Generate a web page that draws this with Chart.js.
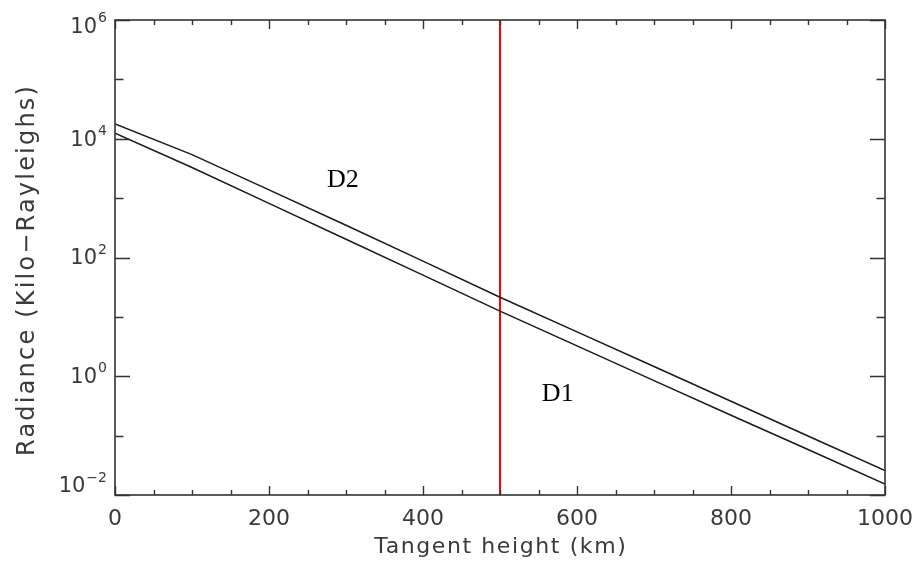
<!DOCTYPE html>
<html>
<head>
<meta charset="utf-8">
<script src="https://cdn.jsdelivr.net/npm/chart.js@4.4.1/dist/chart.umd.min.js"></script>
<style>
  html, body { margin: 0; padding: 0; background: #fff; }
  #wrap { width: 919px; height: 563px; }
</style>
</head>
<body>
<div id="wrap"><canvas id="c" width="919" height="563"></canvas></div>
<script>
// Tangent heights (km) at which the limb radiance is tabulated
const heights = [0, 100, 200, 300, 400, 500, 600, 700, 800, 900, 1000];
// Radiance in kilo-Rayleighs for the two channels
const radianceD2 = [17700, 5400, 1380, 350, 86.7, 21.4, 5.58, 1.46, 0.379, 0.0986, 0.0257];
const radianceD1 = [12400, 3280, 818, 203, 50.4, 12.5, 3.24, 0.845, 0.220, 0.0583, 0.0153];
// Reference tangent height marker (km)
const markerHeight = 500;

// Axis ticks
const xMajorTicks = [0, 200, 400, 600, 800, 1000];
const xMinorTicks = [50, 100, 150, 250, 300, 350, 450, 500, 550, 650, 700, 750, 850, 900, 950];
const yMajorExponents = [-2, 0, 2, 4, 6];
const yMinorExponents = [-1, 1, 3, 5];
const yExponentLabels = ['\u22122', '0', '2', '4', '6'];

const xTitle = 'Tangent height (km)';
const yTitle = 'Radiance (Kilo\u2212Rayleighs)';
// Channel names placed beside their curves (data coordinates)
const curveLabels = [
  { text: 'D2', x: 296, y: 1980 },
  { text: 'D1', x: 575, y: 0.50 }
];

const toPoints = (vals) => heights.map((h, i) => ({ x: h, y: vals[i] }));

const AXIS_COLOR = '#333';
const TEXT_COLOR = '#3a3a3a';
const SANS = '"DejaVu Sans", sans-serif';

// draws text centred on (x, y) with extra spacing between letters
function spacedCentered(ctx, text, x, y, spacing) {
  ctx.letterSpacing = spacing + 'px';
  const w = ctx.measureText(text).width - spacing;
  ctx.textAlign = 'left';
  ctx.fillText(text, x - w / 2, y);
  ctx.letterSpacing = '0px';
}

const framePlugin = {
  id: 'idlFrame',
  afterDraw(chart) {
    const { ctx, chartArea: a, scales } = chart;
    const xs = scales.x, ys = scales.y;
    ctx.save();

    // box
    ctx.strokeStyle = AXIS_COLOR;
    ctx.lineWidth = 1.6;
    ctx.strokeRect(a.left, a.top, a.right - a.left, a.bottom - a.top);

    // inward ticks on all four sides
    ctx.lineWidth = 1.4;
    ctx.beginPath();
    const xTick = (v, len) => {
      const px = Math.round(xs.getPixelForValue(v)) + 0.5;
      ctx.moveTo(px, a.bottom); ctx.lineTo(px, a.bottom - len);
      ctx.moveTo(px, a.top); ctx.lineTo(px, a.top + len);
    };
    const yTick = (v, len) => {
      const py = Math.round(ys.getPixelForValue(v)) + 0.5;
      ctx.moveTo(a.left, py); ctx.lineTo(a.left + len, py);
      ctx.moveTo(a.right, py); ctx.lineTo(a.right - len, py);
    };
    xMajorTicks.forEach(v => xTick(v, 9));
    xMinorTicks.forEach(v => xTick(v, 5));
    yMajorExponents.forEach(e => yTick(Math.pow(10, e), 15));
    yMinorExponents.forEach(e => yTick(Math.pow(10, e), 8.5));
    ctx.stroke();

    // x tick labels
    ctx.fillStyle = TEXT_COLOR;
    ctx.font = '22px ' + SANS;
    ctx.textAlign = 'center';
    ctx.textBaseline = 'middle';
    xMajorTicks.forEach(v => {
      ctx.fillText(String(v), xs.getPixelForValue(v), 519);
    });

    // y tick labels: 10 with superscript exponent
    yMajorExponents.forEach((e, i) => {
      let cy = ys.getPixelForValue(Math.pow(10, e)) + 1.5;
      cy = Math.max(a.top + 7.5, Math.min(a.bottom - 8, cy));
      const sup = yExponentLabels[i];
      ctx.font = '14px ' + SANS;
      const supW = ctx.measureText(sup).width;
      const right = 107;
      ctx.textAlign = 'left';
      ctx.fillText(sup, right - supW, cy - 9);
      ctx.font = '21px ' + SANS;
      ctx.textAlign = 'right';
      ctx.fillText('10', right - supW - 1, cy);
    });

    // axis titles
    ctx.textBaseline = 'alphabetic';
    ctx.font = '22px ' + SANS;
    spacedCentered(ctx, xTitle, (a.left + a.right) / 2, 553, 1.6);

    ctx.save();
    ctx.translate(34, 271);
    ctx.rotate(-Math.PI / 2);
    ctx.font = '24px ' + SANS;
    spacedCentered(ctx, yTitle, 0, 0, 2.2);
    ctx.restore();

    // curve names
    ctx.fillStyle = '#000';
    ctx.font = '26px "Liberation Serif", "Times New Roman", serif';
    ctx.textAlign = 'center';
    ctx.textBaseline = 'middle';
    curveLabels.forEach(l => {
      ctx.fillText(l.text, xs.getPixelForValue(l.x), ys.getPixelForValue(l.y));
    });

    ctx.restore();
  }
};

new Chart(document.getElementById('c'), {
  type: 'scatter',
  data: {
    datasets: [
      {
        label: 'D2',
        data: toPoints(radianceD2),
        showLine: true,
        borderColor: '#1a1a1a',
        borderWidth: 1.5,
        pointRadius: 0,
        tension: 0
      },
      {
        label: 'D1',
        data: toPoints(radianceD1),
        showLine: true,
        borderColor: '#1a1a1a',
        borderWidth: 1.5,
        pointRadius: 0,
        tension: 0
      },
      {
        label: 'marker',
        data: [{ x: markerHeight, y: 0.01 }, { x: markerHeight, y: 1e6 }],
        showLine: true,
        borderColor: '#ff0000',
        borderWidth: 2,
        pointRadius: 0
      }
    ]
  },
  options: {
    responsive: false,
    animation: false,
    layout: { padding: { left: 115, right: 34, top: 20, bottom: 68 } },
    plugins: { legend: { display: false }, tooltip: { enabled: false } },
    scales: {
      x: { type: 'linear', min: 0, max: 1000, display: false },
      y: { type: 'logarithmic', min: 0.01, max: 1e6, display: false }
    }
  },
  plugins: [framePlugin]
});
</script>
</body>
</html>
